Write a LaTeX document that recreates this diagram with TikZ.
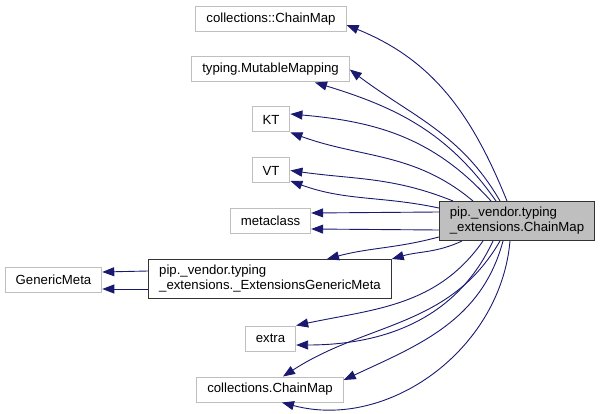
\documentclass[tikz,border=0pt]{standalone}
\usepackage{fontspec}
\setmainfont{Liberation Sans}
\usetikzlibrary{arrows.meta}
\definecolor{edgeblue}{RGB}{25,25,112}
\definecolor{boxgrey}{RGB}{191,191,191}
\newcommand{\classfont}{\fontsize{13.2}{15}\selectfont}
\tikzset{
  cls/.style={draw=boxgrey,fill=white,line width=1pt,inner xsep=10.5pt,inner ysep=0pt,
              minimum height=25pt,font=\classfont},
  doccls/.style={cls,draw=black!80,minimum height=39pt,align=left},
  focus/.style={doccls,fill=boxgrey},
  inh/.style={-{Triangle[length=12pt,width=9pt]},draw=edgeblue,line width=.9pt},
}

\begin{document}
\begin{tikzpicture}[x=1pt,y=1pt]
  \useasboundingbox (0,0) rectangle (600,413);
  % --- the class and its bases
  \node[focus] (main) at (517,192) {pip.\_vendor.typing\\\_extensions.ChainMap};
  \node[cls] (ccm) at (271,394) {collections::ChainMap};
  \node[cls] (mm) at (270.5,343.5) {typing.MutableMapping};
  \node[cls] (kt) at (271,293.5) {KT};
  \node[cls] (vt) at (271,242.5) {VT};
  \node[cls] (meta) at (270.5,192) {metaclass};
  \node[doccls] (egm) at (270,134) {pip.\_vendor.typing\\\_extensions.\_ExtensionsGenericMeta};
  \node[cls] (gm) at (53.5,133) {GenericMeta};
  \node[cls] (extra) at (270.5,74.5) {extra};
  \node[cls] (cm) at (270,23.5) {collections.ChainMap};
  % --- upper edges
  \draw[inh] ([xshift=-10pt]main.north) to[out=112,in=-22] ([yshift=-6pt]ccm.east);
  \draw[inh] ([xshift=-17pt]main.north) to[out=120,in=-37] (mm.east);
  \draw[inh] ([xshift=-21pt]main.north) to[out=125,in=-17] ([xshift=44.5pt]mm.south);
  \draw[inh] ([xshift=-26pt]main.north) to[out=132,in=-5] ([yshift=5.5pt]kt.east);
  \draw[inh] ([xshift=-44pt]main.north) to[out=140,in=-20] (kt.south east);
  \draw[inh] ([xshift=-64pt]main.north) to[out=158,in=-8] (vt.east);
  \draw[inh] ([yshift=13pt]main.west) to[out=168,in=-20] ([yshift=-10.5pt]vt.east);
  \draw[inh] ([yshift=9pt]main.west) -- ([yshift=8pt]meta.east);
  \draw[inh] ([yshift=-9pt]main.west) -- ([yshift=-8pt]meta.east);
  % --- lower edges
  \draw[inh] ([yshift=-16pt]main.west) to[out=195,in=15] ([xshift=57pt]egm.north);
  \draw[inh] ([xshift=-55pt]main.south) to[out=205,in=16] (egm.north east);
  \draw[inh] ([xshift=-34pt]main.south) to[out=235,in=12] (extra.north east);
  \draw[inh] ([xshift=-24pt]main.south) to[out=245,in=0] ([yshift=-6.5pt]extra.east);
  \draw[inh] ([xshift=-17pt]main.south) to[out=240,in=33] ([xshift=13pt]cm.north);
  \draw[inh] ([xshift=-14pt]main.south) to[out=255,in=25] ([yshift=9.5pt]cm.east);
  \draw[inh] ([xshift=-7pt]main.south) to[out=265,in=-15] ([xshift=12pt]cm.south);
  % --- generic meta
  \draw[inh] ([yshift=8pt]egm.west) -- ([yshift=8pt]gm.east);
  \draw[inh] ([yshift=-10pt]egm.west) -- ([yshift=-9pt]gm.east);
\end{tikzpicture}
\end{document}
